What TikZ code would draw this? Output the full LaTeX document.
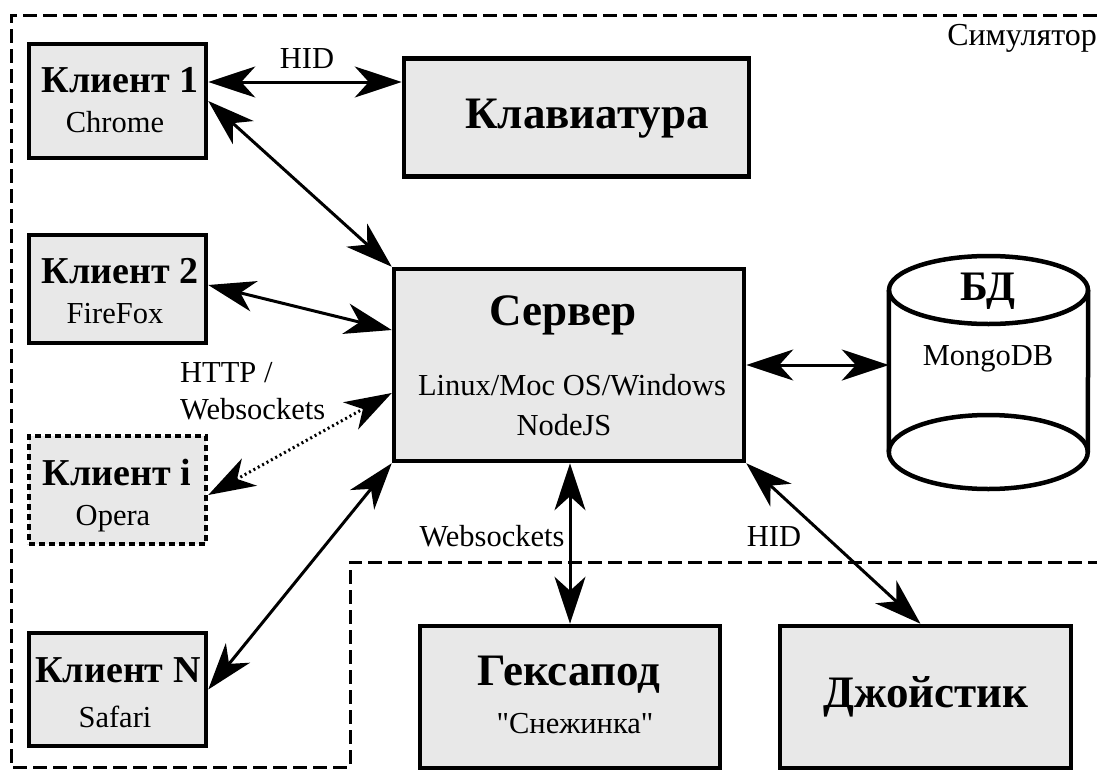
\documentclass[tikz,border=0pt]{standalone}
\usepackage{fontspec}
\setmainfont{Liberation Serif}[Ligatures=TeXOff]
\usetikzlibrary{arrows.meta}
\definecolor{boxfill}{RGB}{232,232,232}
\newcommand\regf{\fontsize{30.5}{35}\selectfont}
\newcommand\clf{\bfseries\fontsize{38}{44}\selectfont}
\newcommand\bigf{\bfseries\fontsize{45}{52}\selectfont}
\tikzset{
  unit/.style={draw, fill=boxfill, line width=4.5pt, inner sep=0pt},
  unitdots/.style={unit, dash pattern=on 6pt off 4pt},
  txt/.style={anchor=base, inner sep=0pt},
  link/.style={line width=3pt, {Stealth[length=47pt,width=31pt,inset=14pt]}-{Stealth[length=47pt,width=31pt,inset=14pt]}},
  linkdots/.style={link, dash pattern=on 2pt off 3pt},
  frame/.style={line width=3pt, dash pattern=on 14pt off 6pt},
}
\begin{document}
\begin{tikzpicture}[x=1pt, y=-1pt]
\useasboundingbox (0,0) rectangle (1097,771);

% simulator boundary
\draw[frame] (1097,15) -- (11,15) -- (11,767) -- (350,767) -- (350,562) -- (1097,562);
\node[anchor=base east, inner sep=0pt] (sim) at (1097,45) {\fontsize{32}{36}\selectfont Симулятор};

% clients
\node[unit, minimum width=177pt, minimum height=114pt] (c1) at (117.5,101) {};
\node[unit, minimum width=177pt, minimum height=108pt] (c2) at (117.5,289) {};
\node[unitdots, minimum width=177pt, minimum height=108pt] (ci) at (117.5,490) {};
\node[unit, minimum width=177pt, minimum height=113pt] (cn) at (117.5,689.5) {};

\node[txt] (c1a) at (120,92) {\clf Клиент 1};
\node[txt] (c1b) at (115,132) {\regf Chrome};
\node[txt] (c2a) at (120,283) {\clf Клиент 2};
\node[txt] (c2b) at (115,323) {\regf FireFox};
\node[txt] (cia) at (117,485) {\clf Клиент i};
\node[txt] (cib) at (113,525) {\regf Opera};
\node[txt] (cna) at (118,682) {\clf Клиент N};
\node[txt] (cnb) at (115,727) {\regf Safari};

% keyboard
\node[unit, minimum width=345pt, minimum height=118pt] (kb) at (576.5,117.5) {};
\node[txt] (kbt) at (587,128) {\bigf Клавиатура};

% server
\node[unit, minimum width=350pt, minimum height=192pt] (srv) at (569,365) {};
\node[txt] (srva) at (563,325) {\bigf Сервер};
\node[txt] (srvb) at (572,395) {\regf Linux/Moc OS/Windows};
\node[txt] (srvc) at (564,435) {\regf NodeJS};

% database
\node[minimum width=199pt, minimum height=210pt, inner sep=0pt] (db) at (988.5,371) {};
\begin{scope}[line width=4.5pt]
  \draw (db.west |- 0,290) -- (db.west |- 0,452)
        arc[start angle=180, end angle=360, x radius=99.5pt, y radius=37pt]
        -- (db.east |- 0,290);
  \draw (db.center |- 0,290) ellipse[x radius=99.5pt, y radius=34pt];
  \draw (db.west |- 0,452) arc[start angle=180, end angle=0, x radius=99.5pt, y radius=37pt];
\end{scope}
\node[txt] (dba) at (988,300) {\bfseries\fontsize{42}{48}\selectfont БД};
\node[txt] (dbb) at (988,365) {\regf MongoDB};

% hexapod and joystick
\node[unit, minimum width=300pt, minimum height=142pt] (hex) at (570,697) {};
\node[txt] (hexa) at (569,685) {\bigf Гексапод};
\node[txt] (hexb) at (575,733) {\regf "Снежинка"};
\node[unit, minimum width=291pt, minimum height=142pt] (joy) at (925.5,697) {};
\node[txt] (joyt) at (926,707) {\bigf Джойстик};

% connections
\draw[link] ([yshift=19pt]c1.east) -- ([yshift=19pt]c1.east -| kb.west);
\node[txt] (hid1) at (307,68) {\regf HID};
\draw[link] (c1.east) -- (srv.north west);
\draw[link] ([yshift=4pt]c2.east) -- ([yshift=35pt]srv.west);
\draw[linkdots] ([yshift=-5pt]ci.east) -- ([yshift=-28pt]srv.west);
\draw[link] (cn.east) -- (srv.south west);
\draw[link] (srv.east) -- (srv.east -| db.west);
\draw[link] (srv.south -| hex.north) -- (hex.north);
\draw[link] (srv.south east) -- ([xshift=-5pt]joy.north);

\node[anchor=base west, inner sep=0pt] (http1) at (180,382) {\regf HTTP /};
\node[anchor=base west, inner sep=0pt] (http2) at (180,419) {\regf Websockets};
\node[txt] (ws) at (492,546) {\regf Websockets};
\node[txt] (hid2) at (774,546) {\regf HID};
\end{tikzpicture}
\end{document}
